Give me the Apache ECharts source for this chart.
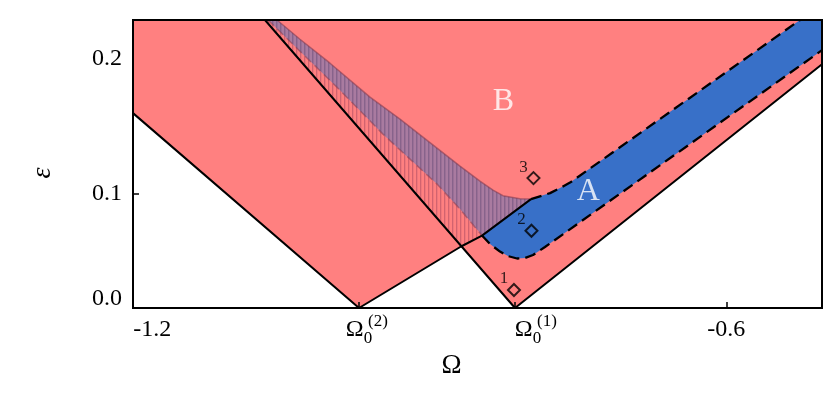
<!DOCTYPE html>
<html>
<head>
<meta charset="utf-8">
<script src="https://cdn.jsdelivr.net/npm/echarts@6/dist/echarts.min.js"></script>
<style>
  html, body { margin: 0; padding: 0; background: #fff; }
  #chart { width: 830px; height: 412px; }
</style>
</head>
<body>
<div id="chart"></div>
<script>
// axis ranges and tick labels
const xMin = -1.22, xMax = -0.5, yMin = -0.009, yMax = 0.265
const xLabelPos = [-1.2, -0.9838, -0.8072, -0.6]
const xLabelText = ['{t|-1.2}', '{o|Ω}{s|0}', '{o|Ω}{s|0}', '{t|-0.6}']
const xSupPos = [-0.9838, -0.8072]
const xSupText = ['(2)', '(1)']
const xTickPos = [-0.9838, -0.8208, -0.6]
const yLabelPos = [0, 0.1, 0.2284]
const yLabelText = ['0.0', '0.1', '0.2']
const yTickPos = [0.1]

// the two V-shaped boundaries (Omega0^(2) and Omega0^(1))
const v2Line = [[-1.22, 0.1764], [-0.9838, -0.009], [-0.8772, 0.0495], [-0.8553, 0.0599], [-0.8041, 0.0946]]
const v1Line = [[-1.0821, 0.265], [-0.8208, -0.009], [-0.5, 0.2229]]

// upper and lower edges of band A
const upperA = [
  [-1.0695, 0.265], [-1.0455, 0.2467], [-1.0141, 0.2239], [-0.9723, 0.1916],
  [-0.941, 0.1707], [-0.9023, 0.1431], [-0.8783, 0.126], [-0.8574, 0.1117],
  [-0.8438, 0.1032], [-0.8334, 0.0979], [-0.8156, 0.0949], [-0.8041, 0.0946],
  [-0.7842, 0.1003], [-0.7738, 0.1051], [-0.7633, 0.1103], [-0.523, 0.265]
]
const lowerA = [
  [-1.0789, 0.265], [-1.0455, 0.2353], [-1.0037, 0.1982], [-0.9588, 0.1564],
  [-0.9305, 0.1326], [-0.9023, 0.1089], [-0.8783, 0.0851], [-0.8553, 0.0599],
  [-0.8469, 0.0518], [-0.8365, 0.0447], [-0.8281, 0.0404], [-0.8187, 0.0381],
  [-0.8104, 0.0385], [-0.802, 0.0414], [-0.7895, 0.049], [-0.5, 0.2363]
]

// marked points and region names
const pointNames = ['1', '2', '3']
const pointPos = [[-0.8219, 0.0081], [-0.8036, 0.0645], [-0.8015, 0.1146]]
const regionNames = ['A', 'B']
const regionPos = [[-0.7442, 0.1013], [-0.833, 0.1878]]

const serif = 'Liberation Serif'
const red = '#FF8080'
const blue = '#3870C8'

function hatch(base, stripe, soft) {
  const c = document.createElement('canvas')
  c.width = 4
  c.height = 4
  const g = c.getContext('2d')
  g.fillStyle = base
  g.fillRect(0, 0, 4, 4)
  g.fillStyle = stripe
  g.fillRect(0, 0, 1, 4)
  g.fillStyle = soft
  g.fillRect(1, 0, 1, 4)
  return { image: c, repeat: 'repeat' }
}

const uLeft = upperA.filter(p => p[0] <= -0.8041)
const uRight = upperA.filter(p => p[0] >= -0.8041)
const lLeft = lowerA.filter(p => p[0] <= -0.8553)
const lRight = lowerA.filter(p => p[0] >= -0.8553)

const redPoly = [[xMin, yMax], [xMax, yMax], v1Line[2], v1Line[1], v2Line[2], v2Line[1], v2Line[0]]
const hatchPoly = [v1Line[0], v2Line[2], v2Line[3]].concat(lLeft.slice().reverse())
const purplePoly = uLeft.concat([v2Line[3]], lLeft.slice().reverse())
const bluePoly = [v2Line[3]].concat(uRight, [[xMax, yMax]], lRight.slice().reverse())

function area(points, fill, z) {
  return {
    type: 'custom',
    z: z,
    silent: true,
    data: [points[0]],
    renderItem: function (params, api) {
      return {
        type: 'polygon',
        shape: { points: points.map(p => api.coord(p)) },
        style: { fill: fill }
      }
    }
  }
}

function line(data, color, width, type, z) {
  return {
    type: 'line',
    data: data,
    z: z,
    symbol: 'none',
    silent: true,
    lineStyle: { color: color, width: width, type: type }
  }
}

let chart = echarts.init(document.getElementById('chart'))
chart.setOption({
  animation: false,
  textStyle: { fontFamily: serif },
  grid: {
    left: 133, right: 8, top: 20, bottom: 104,
    show: true, borderColor: '#000', borderWidth: 2,
    backgroundColor: 'transparent', z: 20,
    containLabel: false, outerBoundsMode: 'none'
  },
  xAxis: [
    {
      type: 'value', min: xMin, max: xMax, z: 10,
      name: 'Ω', nameLocation: 'middle', nameGap: 40,
      nameTextStyle: { fontFamily: serif, fontSize: 27, color: '#000', padding: [0, 52, 0, 0] },
      axisLine: { onZero: false, lineStyle: { color: '#000', width: 2 } },
      axisTick: { inside: true, length: 6, customValues: xTickPos, lineStyle: { color: '#000', width: 1.5 } },
      splitLine: { show: false },
      axisLabel: {
        customValues: xLabelPos,
        margin: 9,
        formatter: v => xLabelText[xLabelPos.findIndex(p => Math.abs(p - v) < 1e-9)],
        rich: {
          t: { fontFamily: serif, fontSize: 24, lineHeight: 26, color: '#000' },
          o: { fontFamily: serif, fontSize: 24, lineHeight: 26, color: '#000' },
          s: { fontFamily: serif, fontSize: 17, lineHeight: 14, padding: [18, 0, 0, 0], color: '#000' }
        }
      }
    },
    {
      type: 'value', min: xMin, max: xMax, position: 'bottom',
      axisLine: { show: false, onZero: false }, axisTick: { show: false }, splitLine: { show: false },
      axisLabel: {
        customValues: xSupPos,
        margin: 5,
        formatter: v => '{p|' + xSupText[xSupPos.findIndex(p => Math.abs(p - v) < 1e-9)] + '}',
        rich: { p: { fontFamily: serif, fontSize: 17, lineHeight: 18, padding: [0, 0, 0, 38], color: '#000' } }
      }
    }
  ],
  yAxis: {
    type: 'value', min: yMin, max: yMax, z: 10,
    name: 'ε', nameLocation: 'middle', nameGap: 76, nameRotate: 90,
    nameTextStyle: { fontFamily: serif, fontSize: 28, fontStyle: 'italic', color: '#000', padding: [0, 18, 0, 0] },
    axisLine: { onZero: false, lineStyle: { color: '#000', width: 2 } },
    axisTick: { inside: true, length: 6, customValues: yTickPos, lineStyle: { color: '#000', width: 1.5 } },
    splitLine: { show: false },
    axisLabel: {
      customValues: yLabelPos,
      margin: 11,
      padding: [7, 0, 0, 0],
      fontFamily: serif, fontSize: 24, color: '#000',
      formatter: v => yLabelText[yLabelPos.findIndex(p => Math.abs(p - v) < 1e-9)]
    }
  },
  series: [
    area(redPoly, red, 1),
    area(hatchPoly, hatch('#FF8080', 'rgba(195,90,105,0.75)', 'rgba(225,110,118,0.5)'), 2),
    area(purplePoly, hatch('#A97BA0', '#87638B', '#9A6F96'), 2),
    area(bluePoly, blue, 3),
    line(uLeft, 'rgba(130,55,75,0.55)', 1.5, 'solid', 4),
    line(lLeft, 'rgba(130,55,75,0.5)', 1.5, [8, 5], 4),
    line(v1Line, '#000', 2, 'solid', 5),
    line(v2Line, '#000', 2, 'solid', 5),
    line(uRight, '#000', 2.3, [11, 6], 5),
    line(lRight, '#000', 2.3, [11, 6], 5),
    {
      type: 'scatter', z: 8, silent: true,
      data: pointPos,
      symbol: 'diamond', symbolSize: 12,
      itemStyle: { color: 'rgba(0,0,0,0)', borderColor: '#000', borderWidth: 2 },
      label: {
        show: true, position: 'inside', offset: [-10, -11],
        fontFamily: serif, fontSize: 17, color: '#000',
        formatter: p => pointNames[p.dataIndex]
      }
    },
    {
      type: 'scatter', z: 8, silent: true,
      data: regionPos,
      symbolSize: 0,
      label: {
        show: true, position: 'inside',
        fontFamily: serif, fontSize: 32, color: '#fff',
        formatter: p => regionNames[p.dataIndex]
      }
    }
  ]
})
</script>
</body>
</html>
